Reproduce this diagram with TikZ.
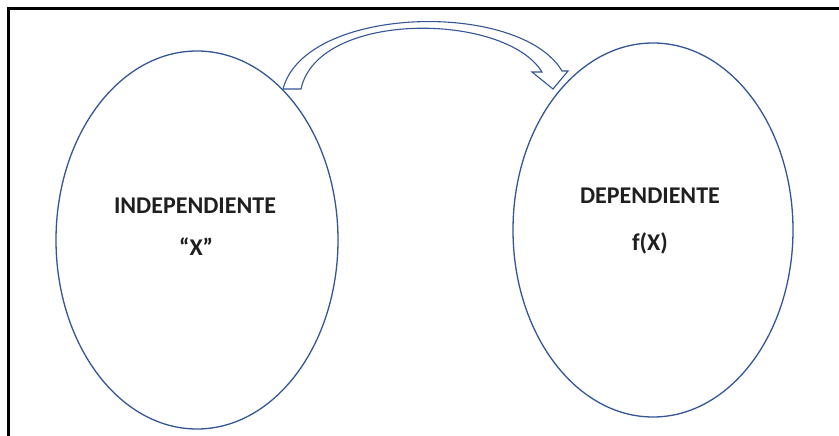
\documentclass[tikz,border=0pt]{standalone}
\usepackage{fontspec}
\setmainfont{Carlito}
\definecolor{olblue}{RGB}{52,86,150}
\begin{document}
\begin{tikzpicture}[x=1pt,y=-1pt,
  lbl/.style={font=\bfseries\fontsize{24}{28}\selectfont,text=black!88,inner sep=0pt}]
\useasboundingbox (0,0) rectangle (839,436);
\fill[white] (0,0) rectangle (839,436);
% frame
\draw[line width=3pt,black] (8,436) -- (8,9) -- (839,9);
% ellipses
\draw[olblue,line width=1.3pt] (197,240) ellipse [x radius=141, y radius=189];
\draw[olblue,line width=1.3pt] (653,230) ellipse [x radius=140, y radius=187];
\coordinate (L) at (197,240);
\coordinate (R) at (653,230);
% curved block arrow
\draw[olblue,line width=1.1pt,line join=miter,fill=white]
  (283,89) .. controls (305,5) and (520,0) .. (562,71)
  -- (568,71) -- (553,89) -- (532,72) -- (542,72)
  .. controls (505,12) and (318,10) .. (301,89) -- cycle;
% labels
\node[lbl] (ind) at (195,206) {INDEPENDIENTE};
\node[lbl] (x) at (196,247) {“X”};
\node[lbl] (dep) at (650,196) {DEPENDIENTE};
\node[lbl] (fx) at (650,243) {f(X)};
\end{tikzpicture}
\end{document}
